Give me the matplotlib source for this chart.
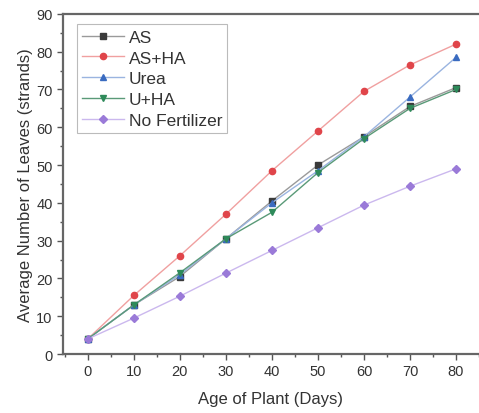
import matplotlib
matplotlib.use("Agg")
import matplotlib.pyplot as plt
from matplotlib.ticker import MultipleLocator

days = [0, 10, 20, 30, 40, 50, 60, 70, 80]
as_vals = [4, 13, 20.5, 30.5, 40.5, 50, 57.5, 65.5, 70.5]
as_ha = [4, 15.5, 26, 37, 48.5, 59, 69.5, 76.5, 82]
urea = [4, 13, 21, 30.5, 40, 48.5, 57.5, 68, 78.5]
u_ha = [4, 13, 21.5, 30.5, 37.5, 48, 57, 65, 70]
no_fert = [4, 9.5, 15.3, 21.4, 27.4, 33.4, 39.4, 44.4, 49]

series = [
    ("AS", as_vals, "#3a3a3a", "#9a9a9a", "s"),
    ("AS+HA", as_ha, "#e0454a", "#f0a0a0", "o"),
    ("Urea", urea, "#3a6bc0", "#9ab4e0", "^"),
    ("U+HA", u_ha, "#2e8a5a", "#5a9a78", "v"),
    ("No Fertilizer", no_fert, "#9a7ad8", "#cbb8ee", "D"),
]

plt.rcParams['font.family'] = ['Liberation Sans', 'DejaVu Sans']
fig = plt.figure(figsize=(4.79, 4.14), dpi=100)
ax = fig.add_axes([0.1315, 0.1425, 0.8685, 0.8215])

for name, vals, mc, lc, m in series:
    ax.plot(days, vals, color=lc, lw=1.0, marker=m, ms=4.5 if m != "D" else 4,
            mfc=mc, mec=mc, label=name)

ax.set_xlim(-5.4, 85)
ax.set_ylim(0, 90)
ax.xaxis.set_major_locator(MultipleLocator(10))
ax.xaxis.set_minor_locator(MultipleLocator(5))
ax.yaxis.set_major_locator(MultipleLocator(10))
ax.yaxis.set_minor_locator(MultipleLocator(5))
ax.tick_params(which='both', direction='out', colors='#555555', labelcolor='#333333', labelsize=10.5)
ax.tick_params(which='major', length=4, width=1)
ax.tick_params(which='minor', length=2.5, width=1)
for s in ['left', 'bottom', 'top']:
    ax.spines[s].set_color('#666666')
    ax.spines[s].set_linewidth(1.6)
ax.spines['right'].set_visible(False)

ax.set_xlabel("Age of Plant (Days)", fontsize=12, color='#333333', labelpad=9)
ax.set_ylabel("Average Number of Leaves (strands)", fontsize=12, color='#333333', labelpad=2)

leg = ax.legend(loc='upper left', bbox_to_anchor=(0.012, 0.995), fontsize=12.5,
                frameon=True, fancybox=False, edgecolor='#aaaaaa', handlelength=2.4,
                borderpad=0.3, labelspacing=0.33, handletextpad=0.3)
leg.get_frame().set_linewidth(0.8)
for t in leg.get_texts():
    t.set_color('#333333')

fig.savefig("out.png", dpi=100)
